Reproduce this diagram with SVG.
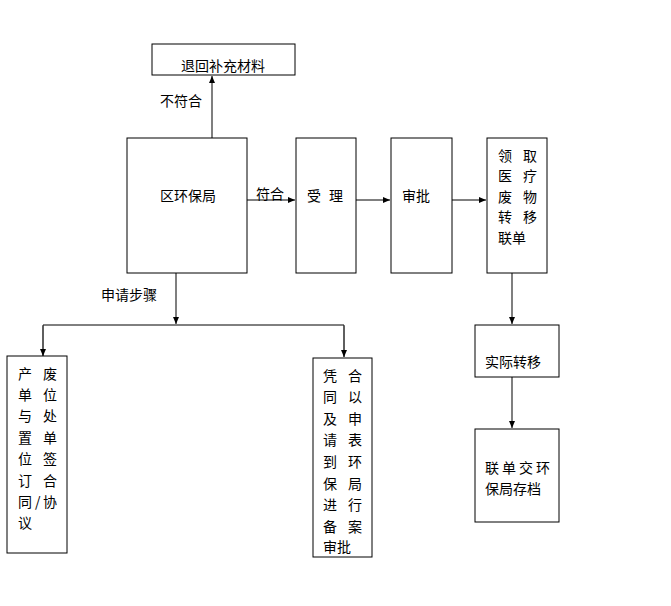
<svg xmlns="http://www.w3.org/2000/svg" width="671" height="606" viewBox="0 0 671 606">
<style>
.box{fill:#fff;stroke:#000;stroke-width:1}
.t{font-family:"Noto Sans CJK SC","Liberation Sans",sans-serif;font-size:14px;fill:#000}
.ln{fill:none;stroke:#000;stroke-width:1}
.lg{fill:none;stroke:#555;stroke-width:1.5}
</style>
<defs>
<marker id="ah" markerWidth="8" markerHeight="8" refX="7" refY="4" orient="auto" markerUnits="userSpaceOnUse">
<path d="M0,1 L7,4 L0,7 Z" fill="#000"/>
</marker>
</defs>
<rect width="671" height="606" fill="#fff"/>
<g id="connectors">
<line class="lg" x1="212" y1="138" x2="212" y2="76" marker-end="url(#ah)"/>
<line class="ln" x1="247" y1="200" x2="295" y2="200" marker-end="url(#ah)"/>
<line class="ln" x1="356" y1="200" x2="390" y2="200" marker-end="url(#ah)"/>
<line class="ln" x1="452" y1="200" x2="486" y2="200" marker-end="url(#ah)"/>
<line class="lg" x1="512" y1="273" x2="512" y2="324" marker-end="url(#ah)"/>
<line class="lg" x1="512" y1="377" x2="512" y2="428" marker-end="url(#ah)"/>
<line class="lg" x1="176" y1="273" x2="176" y2="324" marker-end="url(#ah)"/>
<polyline class="ln" points="43,356 43,325 344,325 344,357"/>
<line class="lg" x1="43" y1="326" x2="43" y2="356" marker-end="url(#ah)"/>
<line class="lg" x1="344" y1="326" x2="344" y2="357" marker-end="url(#ah)"/>
<text class="t" x="160" y="106">不符合</text>
<text class="t" x="256" y="199">符合</text>
<text class="t" x="101" y="300">申请步骤</text>
</g>
<g id="n_return">
<rect class="box" x="152" y="44" width="143" height="31"/>
<text class="t" x="223" y="71" text-anchor="middle">退回补充材料</text>
</g>
<g id="n_bureau">
<rect class="box" x="127" y="138" width="120" height="135"/>
<text class="t" x="188" y="201" text-anchor="middle">区环保局</text>
</g>
<g id="n_accept">
<rect class="box" x="296" y="138" width="60" height="135"/>
<text class="t" x="307 329" y="201">受理</text>
</g>
<g id="n_approve">
<rect class="box" x="391" y="138" width="61" height="135"/>
<text class="t" x="402" y="201">审批</text>
</g>
<g id="n_receive">
<rect class="box" x="487" y="138" width="60" height="135"/>
<text class="t" x="498 523" y="161">领取</text>
<text class="t" x="498 523" y="181">医疗</text>
<text class="t" x="498 523" y="202">废物</text>
<text class="t" x="498 523" y="222">转移</text>
<text class="t" x="498" y="243">联单</text>
</g>
<g id="n_transfer">
<rect class="box" x="475" y="325" width="84" height="52"/>
<text class="t" x="485" y="367">实际转移</text>
</g>
<g id="n_archive">
<rect class="box" x="475" y="429" width="84" height="93"/>
<text class="t" x="485 502 519 536" y="473">联单交环</text>
<text class="t" x="485" y="494">保局存档</text>
</g>
<g id="n_agreement">
<rect class="box" x="7" y="356" width="60" height="197"/>
<text class="t" x="18 43" y="379">产废</text>
<text class="t" x="18 43" y="400">单位</text>
<text class="t" x="18 43" y="421">与处</text>
<text class="t" x="18 43" y="443">置单</text>
<text class="t" x="18 43" y="464">位签</text>
<text class="t" x="18 43" y="486">订合</text>
<text class="t" x="18 35 43" y="507">同/协</text>
<text class="t" x="18" y="528">议</text>
</g>
<g id="n_filing">
<rect class="box" x="313" y="358" width="59" height="199"/>
<text class="t" x="323 348" y="381">凭合</text>
<text class="t" x="323 348" y="402">同以</text>
<text class="t" x="323 348" y="424">及申</text>
<text class="t" x="323 348" y="445">请表</text>
<text class="t" x="323 348" y="467">到环</text>
<text class="t" x="323 348" y="489">保局</text>
<text class="t" x="323 348" y="510">进行</text>
<text class="t" x="323 348" y="532">备案</text>
<text class="t" x="323" y="552">审批</text>
</g>
</svg>
